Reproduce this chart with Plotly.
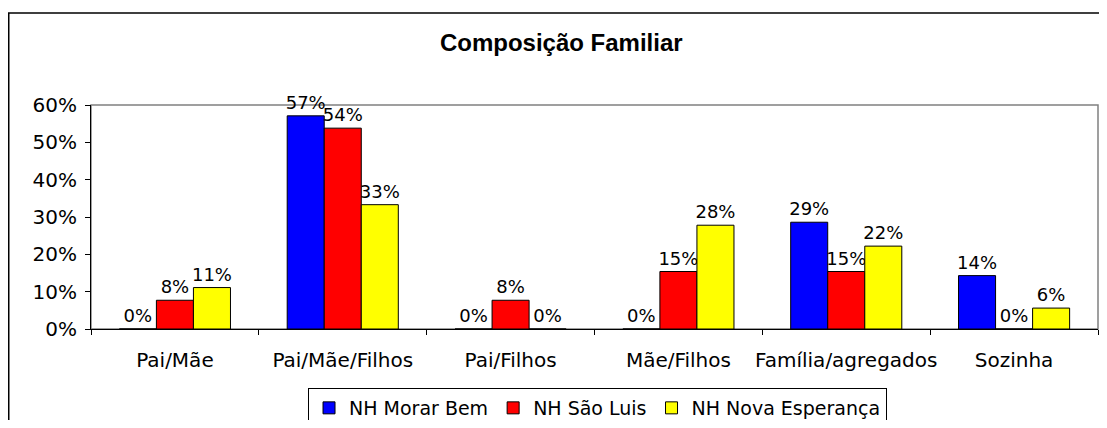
import plotly.graph_objects as go

categories = ["Pai/Mãe", "Pai/Mãe/Filhos", "Pai/Filhos", "Mãe/Filhos", "Família/agregados", "Sozinha"]
series_names = ["NH Morar Bem", "NH São Luis", "NH Nova Esperança"]
morar_bem = [0.0, 0.571, 0.0, 0.0, 0.286, 0.143]
sao_luis = [0.077, 0.538, 0.077, 0.154, 0.154, 0.0]
nova_esperanca = [0.111, 0.333, 0.0, 0.278, 0.222, 0.056]
series_values = [morar_bem, sao_luis, nova_esperanca]
series_colors = ["#0000FF", "#FF0000", "#FFFF00"]
y_ticks = [0, 0.1, 0.2, 0.3, 0.4, 0.5, 0.6]

FONT = "DejaVu Sans, Verdana, sans-serif"

# page body has an 8px margin: figure sized to fit the window without scrollbars
W, H = 1091, 412
L, T = 83, 97
PW, PH = W - L - 1, 224
R = W - L - PW
B = H - T - PH

fig = go.Figure()
for name, vals, col in zip(series_names, series_values, series_colors):
    fig.add_trace(go.Bar(
        x=categories, y=vals, name=name,
        marker=dict(color=col, line=dict(color="black", width=1)),
        texttemplate="%{y:.0%}", textposition="outside",
        constraintext="none", cliponaxis=False,
        textfont=dict(family=FONT, size=18, color="black"),
    ))

fig.update_layout(
    width=W, height=H,
    margin=dict(l=L, r=R, t=T, b=B, pad=0, autoexpand=False),
    paper_bgcolor="white", plot_bgcolor="white",
    barmode="group", bargap=0.338, bargroupgap=0,
    title=dict(text="<b>Composição Familiar</b>", x=0.467, xref="paper", xanchor="center",
               y=1 - 35 / H, yref="container", yanchor="middle",
               font=dict(family="Liberation Sans, Arial, sans-serif", size=24, color="black")),
    showlegend=True,
    legend=dict(orientation="h", x=0.503, xanchor="center", y=-(388 - 329) / PH, yanchor="top",
                bordercolor="black", borderwidth=1, bgcolor="white",
                font=dict(family=FONT, size=19, color="black"),
                traceorder="normal"),
    xaxis=dict(type="category", showline=True, linecolor="black", linewidth=1,
               ticks="outside", tickson="boundaries", ticklen=5, tickcolor="black",
               tickangle=0, automargin=False, ticklabelstandoff=13,
               tickfont=dict(family=FONT, size=20, color="black"), showgrid=False),
    yaxis=dict(range=[0, 0.6], tickvals=y_ticks, tickformat=".0%", showline=True,
               linecolor="black", linewidth=1, ticks="outside", ticklen=5, tickcolor="black",
               automargin=False, ticklabelstandoff=4,
               tickfont=dict(family=FONT, size=20, color="black"), showgrid=False,
               zeroline=False),
    shapes=[
        dict(type="rect", xref="paper", yref="paper", x0=0, x1=1, y0=0, y1=1,
             line=dict(color="#808080", width=1.5), layer="below"),
        dict(type="rect", xref="paper", yref="paper", x0=(0.75 - L) / PW, x1=1.05,
             y0=-0.6, y1=(T + PH - 5) / PH, line=dict(color="black", width=1.5), layer="below"),
    ],
)

fig.write_html("out.html")
